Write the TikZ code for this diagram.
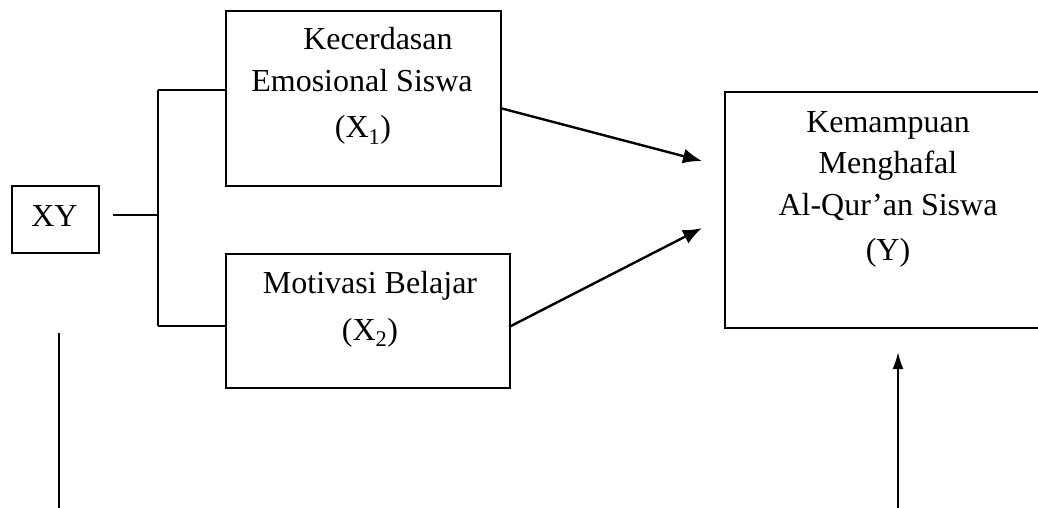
\documentclass[tikz,border=0pt]{standalone}
\usepackage{fontspec}
\setmainfont{Liberation Serif}
\usetikzlibrary{arrows.meta,calc}
\begin{document}
\begin{tikzpicture}[x=1pt,y=-1pt,
  box/.style={draw,line width=2pt,inner sep=0pt,anchor=north west},
  txt/.style={font=\fontsize{32}{38}\selectfont,anchor=base,inner sep=0pt},
  conn/.style={line width=2pt},
  thinline/.style={line width=1.4pt},
  arr/.style={line width=2.4pt,-{Latex[length=19pt,width=15pt]}},
  uparr/.style={line width=2pt,-{Latex[length=17pt,width=11pt]}}]
\useasboundingbox (0,0) rectangle (1038,508);
\clip (0,0) rectangle (1038,508);
% boxes
\node[box,minimum width=87pt,minimum height=67pt] (xy) at (11,185) {};
\node[box,minimum width=275pt,minimum height=175pt] (x1) at (225,10) {};
\node[box,minimum width=284pt,minimum height=134pt] (x2) at (225,253) {};
\node[box,minimum width=360pt,minimum height=236pt] (y) at (724,91) {};
% texts
\node[txt] (txy) at (54.5,226) {XY};
\node[txt] (t1a) at (378,50) {Kecerdasan};
\node[txt] (t1b) at (362,92) {Emosional Siswa};
\node[txt] (t1c) at (363,138) {(X\textsubscript{1})};
\node[txt] (t2a) at (370,293) {Motivasi Belajar};
\node[txt] (t2b) at (370,340) {(X\textsubscript{2})};
\node[txt] (tya) at (888,132) {Kemampuan};
\node[txt] (tyb) at (888,173) {Menghafal};
\node[txt] (tyc) at (888,215) {Al-Qur’an Siswa};
\node[txt] (tyd) at (888,260) {(Y)};
% connector points
\coordinate (s) at (113,215);
\coordinate (j) at (158,215);
\coordinate (jt) at (158,90);
\coordinate (jb) at (158,326);
\coordinate (a1s) at (500,108);
\coordinate (a1e) at (702,161);
\coordinate (a2s) at (509,327);
\coordinate (a2e) at (702,228);
\coordinate (lt) at (59,333);
\coordinate (lb) at (59,510);
\coordinate (ub) at (898,510);
\coordinate (ut) at (898,352);
% connectors
\draw[conn] (s) -- (j);
\draw[conn] (jt) -- (jb);
\draw[conn] (jt) -- (jt -| x1.west);
\draw[conn] (jb) -- (jb -| x2.west);
\draw[arr] (a1s) -- (a1e);
\draw[arr] (a2s) -- (a2e);
\draw[thinline] (lt) -- (lb);
\draw[uparr] (ub) -- (ut);
\end{tikzpicture}
\end{document}
